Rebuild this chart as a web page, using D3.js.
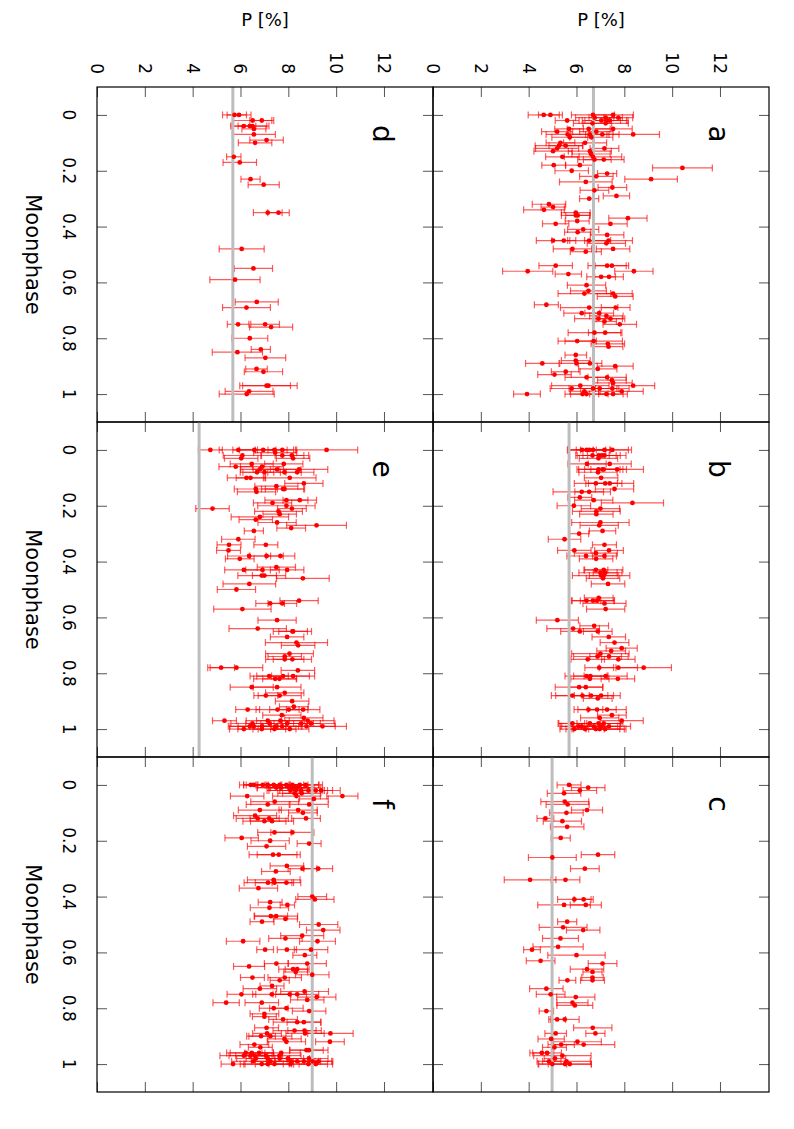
<!DOCTYPE html>
<html>
<head>
  <meta charset="utf-8">
  <title>Moonphase panels</title>
  <script src="https://cdn.jsdelivr.net/npm/d3@7"></script>
  <style>
    body { margin: 0; background: #fff; }
    text { font-family: "DejaVu Sans", sans-serif; }
  </style>
</head>
<body>
<script>
// each point: [moonphase, P (%), error (%)]
var panelA = [
  [0.00,4.63,0.65],[0.00,4.91,0.5],[0.00,6.69,0.9],[0.00,7.53,0.85],
  [0.01,6.76,0.8],[0.01,7.22,0.7],[0.01,7.75,0.6],
  [0.02,5.61,0.5],[0.02,7.04,0.8],[0.02,7.25,0.9],[0.02,7.39,0.7],
  [0.03,6.67,0.8],[0.03,7.22,0.95],
  [0.05,5.69,0.6],[0.05,6.51,0.9],[0.05,7.53,0.8],
  [0.06,5.19,0.65],[0.06,6.83,0.7],
  [0.07,5.63,0.9],[0.07,6.56,0.8],[0.07,7.08,0.7],[0.07,8.37,1.1],
  [0.08,5.72,0.75],[0.08,6.62,0.9],
  [0.10,6.36,0.9],[0.10,5.33,0.6],
  [0.11,5.27,1.0],[0.11,5.55,0.7],
  [0.12,5.19,0.9],[0.12,7.17,0.6],
  [0.13,5.02,0.8],[0.13,6.56,0.9],
  [0.14,6.61,0.8],
  [0.15,5.41,0.7],[0.15,6.69,1.2],
  [0.16,7.14,0.85],[0.16,6.75,0.7],
  [0.18,5.05,0.5],[0.18,6.14,0.6],
  [0.19,10.43,1.25],
  [0.20,5.80,0.7],
  [0.21,7.28,0.4],
  [0.22,6.83,0.7],
  [0.23,9.12,1.1],
  [0.24,6.39,1.1],
  [0.26,7.50,0.6],
  [0.27,6.75,0.6],
  [0.29,7.67,0.55],
  [0.30,6.53,0.4],
  [0.32,4.85,0.7],
  [0.33,5.02,0.5],
  [0.34,4.64,0.85],
  [0.35,5.97,0.6],
  [0.36,6.05,0.5],[0.36,5.97,0.6],
  [0.37,8.15,0.8],
  [0.38,6.03,0.5],
  [0.39,5.13,0.55],[0.39,7.42,0.7],
  [0.41,6.28,0.65],
  [0.42,6.05,0.55],
  [0.43,7.28,0.7],
  [0.45,5.02,0.7],[0.45,5.47,0.5],[0.45,6.53,0.9],[0.45,7.34,1.0],
  [0.46,7.25,0.8],
  [0.48,5.83,0.8],[0.48,7.53,0.7],
  [0.49,6.39,0.65],
  [0.54,5.13,0.7],[0.54,7.28,0.8],[0.54,7.48,0.7],
  [0.56,3.96,1.05],[0.56,8.40,0.8],
  [0.57,5.66,0.55],
  [0.58,7.03,0.6],[0.58,7.36,0.6],
  [0.61,6.42,0.8],
  [0.63,6.50,0.75],
  [0.64,6.33,1.1],[0.64,7.53,0.8],
  [0.65,7.62,0.75],
  [0.68,4.74,0.5],
  [0.69,6.53,1.2],[0.69,7.64,0.6],
  [0.71,6.22,0.75],[0.71,6.95,0.6],
  [0.72,7.25,0.7],
  [0.73,6.92,1.0],[0.73,7.42,0.6],
  [0.74,7.17,0.5],
  [0.75,7.81,0.7],
  [0.78,6.75,1.1],[0.78,7.20,0.7],
  [0.81,6.03,0.8],[0.81,6.72,1.2],
  [0.82,7.31,0.7],
  [0.83,7.34,0.6],
  [0.86,5.97,0.45],
  [0.88,5.97,0.6],
  [0.89,4.57,0.7],[0.89,6.56,0.5],[0.89,6.00,0.7],
  [0.90,7.62,0.75],
  [0.91,6.89,0.8],
  [0.92,5.55,0.6],
  [0.93,5.08,0.7],
  [0.94,6.42,0.9],[0.94,7.28,0.8],
  [0.95,7.48,0.6],
  [0.96,7.53,0.8],
  [0.97,6.16,1.2],[0.97,8.37,0.9],
  [0.98,5.80,0.9],[0.98,6.69,1.0],[0.98,6.97,0.8],[0.98,7.50,0.7],
  [0.99,6.33,0.6],[0.99,7.89,0.9],
  [1.00,3.93,0.56],[1.00,6.25,0.5],[1.00,6.42,0.9],[1.00,7.25,0.7],[1.00,7.53,0.6]
];

var panelB = [
  [0.00,6.23,0.6],[0.00,6.42,0.8],[0.00,6.53,0.9],[0.00,6.69,0.7],[0.00,7.17,1.0],[0.00,7.50,0.8],
  [0.02,6.67,0.7],[0.02,6.93,0.9],[0.02,7.06,0.6],[0.02,7.17,0.9],
  [0.03,6.92,0.8],
  [0.05,6.44,0.8],[0.05,7.39,0.9],
  [0.07,6.92,0.9],[0.07,7.09,1.0],[0.07,7.14,0.8],[0.07,7.70,1.1],
  [0.08,6.90,0.8],
  [0.10,7.03,0.7],
  [0.12,6.81,0.9],[0.12,7.20,0.7],[0.12,7.39,1.0],
  [0.14,7.59,0.8],
  [0.15,6.22,1.2],[0.15,6.53,0.6],
  [0.17,6.14,0.5],
  [0.18,6.72,0.8],
  [0.19,8.34,1.3],
  [0.20,5.89,0.7],
  [0.21,7.00,0.8],
  [0.22,6.83,1.0],
  [0.23,6.83,0.7],
  [0.26,7.00,1.2],
  [0.27,6.95,0.8],
  [0.29,7.09,0.55],
  [0.30,6.11,0.4],
  [0.32,5.50,0.68],
  [0.34,7.17,0.5],
  [0.36,5.91,0.7],[0.36,7.36,0.6],
  [0.37,6.81,0.9],
  [0.38,6.40,0.8],[0.38,7.17,0.5],
  [0.39,6.82,0.7],
  [0.43,6.81,0.5],[0.43,7.14,0.8],
  [0.44,7.00,0.9],[0.44,7.20,0.5],
  [0.45,7.03,1.2],[0.45,7.14,0.6],
  [0.46,7.11,0.7],
  [0.48,7.32,0.7],
  [0.53,6.93,0.6],
  [0.54,6.42,0.6],[0.54,6.69,0.9],[0.54,6.86,0.7],
  [0.55,7.17,0.9],
  [0.57,7.22,0.8],
  [0.61,5.20,0.88],
  [0.63,6.74,0.6],
  [0.64,5.86,1.1],
  [0.65,6.14,0.8],[0.65,6.89,0.6],
  [0.67,7.35,0.7],
  [0.69,7.59,0.6],
  [0.71,7.89,0.65],
  [0.72,7.45,0.6],
  [0.73,7.00,1.2],
  [0.74,6.88,1.0],[0.74,7.36,0.8],
  [0.75,6.47,0.7],[0.75,7.75,0.7],
  [0.78,6.95,0.6],[0.78,7.75,0.8],[0.78,8.81,1.16],
  [0.81,6.42,0.9],[0.81,6.58,0.7],[0.81,7.22,0.9],
  [0.82,6.56,0.8],[0.82,7.73,0.7],
  [0.85,6.11,1.0],[0.85,6.39,0.7],
  [0.88,5.83,0.7],[0.88,6.25,1.3],[0.88,6.61,0.7],[0.88,7.03,0.8],
  [0.89,6.89,0.6],
  [0.93,6.50,0.6],[0.93,6.86,0.8],[0.93,7.28,0.8],
  [0.95,7.48,0.6],
  [0.96,6.97,0.8],
  [0.97,7.89,0.9],
  [0.98,5.83,0.6],[0.98,6.56,1.3],[0.98,6.92,0.9],[0.98,7.14,0.8],
  [0.99,6.08,0.7],[0.99,6.22,0.9],[0.99,6.72,1.0],[0.99,7.03,0.8],[0.99,7.36,0.9],
  [1.00,5.91,0.6],[1.00,6.36,0.8],[1.00,6.81,1.0],[1.00,6.97,1.1],[1.00,7.20,0.8]
];

var panelC = [
  [0.00,5.69,0.5],[0.01,6.49,0.7],[0.02,6.14,0.7],[0.03,5.48,0.7],[0.06,5.51,1.0],
  [0.07,5.63,0.9],[0.09,6.44,0.65],[0.10,5.58,0.7],[0.12,4.70,0.35],[0.13,5.41,0.8],
  [0.15,5.61,0.7],[0.19,5.34,0.4],[0.25,6.90,0.7],[0.26,4.99,1.0],[0.30,6.35,0.6],
  [0.34,4.06,1.08],[0.34,5.54,0.6],[0.41,5.91,0.7],[0.41,6.30,0.4],[0.43,5.48,1.1],
  [0.43,6.39,0.65],[0.49,5.61,0.4],[0.51,5.44,1.0],[0.52,6.28,0.7],[0.55,5.33,0.75],
  [0.58,5.23,1.05],[0.59,4.14,0.35],[0.61,6.00,1.2],[0.63,4.50,0.6],[0.64,7.09,0.6],
  [0.66,6.44,0.7],[0.67,6.67,0.4],[0.69,6.67,0.45],[0.70,5.62,0.35],[0.70,6.67,0.5],
  [0.73,4.74,0.7],[0.75,4.92,0.6],[0.76,5.97,0.8],[0.78,5.83,0.65],[0.79,5.93,0.75],
  [0.81,4.74,0.3],[0.84,5.19,0.35],[0.84,5.51,0.6],[0.87,6.68,0.8],[0.89,5.13,0.45],
  [0.89,6.79,0.4],[0.91,4.94,0.55],[0.92,6.04,1.0],[0.93,5.36,0.55],[0.93,6.30,1.3],
  [0.94,5.08,0.5],[0.96,4.55,0.5],[0.96,4.77,0.6],[0.97,5.41,1.2],[0.98,5.10,0.45],
  [0.99,4.85,0.5],[0.99,5.58,1.0],[1.00,4.99,0.6],[1.00,5.52,1.1],[1.00,5.72,0.9]
];

var panelD = [
  [0.00,5.75,0.5],[0.00,5.94,0.5],[0.02,6.51,0.8],[0.02,6.89,0.5],[0.04,6.14,0.5],
  [0.04,6.39,0.8],[0.04,6.50,0.6],[0.05,6.56,0.5],[0.07,6.56,0.9],[0.09,7.09,0.7],
  [0.10,6.61,0.7],[0.15,5.72,0.3],[0.17,5.97,0.7],[0.23,6.42,0.4],[0.25,6.97,0.65],
  [0.35,7.14,0.6],[0.35,7.59,0.45],[0.48,6.05,0.94],[0.55,6.54,0.8],[0.59,5.77,1.05],
  [0.67,6.68,0.9],[0.69,6.25,1.0],[0.75,5.90,0.45],[0.75,7.03,0.6],[0.76,7.28,0.9],
  [0.80,6.39,0.75],[0.84,6.85,0.4],[0.85,5.87,1.05],[0.87,7.04,0.85],[0.91,6.67,0.45],
  [0.92,6.96,0.8],[0.97,7.09,1.0],[0.97,7.17,1.2],[0.99,6.36,1.0],[1.00,6.26,1.15]
];

var panelE = [
  [0.00,4.74,0.5],[0.00,5.91,0.8],[0.00,6.58,0.9],[0.00,6.95,1.0],[0.00,7.42,0.8],[0.00,7.75,0.6],[0.00,9.60,1.3],
  [0.01,7.45,0.9],
  [0.02,6.08,0.8],[0.02,7.75,0.9],[0.02,8.15,0.7],
  [0.03,6.03,0.7],[0.03,8.20,0.7],
  [0.05,6.47,0.9],[0.05,7.81,0.8],
  [0.06,5.80,0.7],[0.06,6.90,0.9],
  [0.07,6.81,0.8],[0.07,7.53,1.0],[0.07,8.45,1.2],
  [0.08,6.69,0.7],[0.08,7.00,0.9],[0.08,7.84,0.7],[0.08,8.37,0.7],
  [0.10,6.25,0.8],[0.10,6.42,0.6],[0.10,8.06,1.1],
  [0.12,8.65,0.8],
  [0.13,7.50,0.9],
  [0.14,6.64,0.9],[0.14,7.78,0.9],[0.14,7.84,0.8],
  [0.15,6.67,0.8],
  [0.18,7.92,0.9],[0.18,8.48,0.7],
  [0.19,7.34,0.8],
  [0.20,7.92,1.2],
  [0.21,4.83,0.7],[0.21,8.15,0.6],
  [0.22,7.59,1.0],
  [0.23,7.64,0.7],
  [0.24,6.81,1.2],
  [0.25,6.64,0.7],
  [0.26,7.53,0.8],
  [0.27,9.18,1.25],
  [0.28,8.12,0.6],
  [0.29,6.56,0.4],
  [0.32,5.91,0.7],
  [0.34,5.52,0.5],[0.34,7.06,0.5],
  [0.36,5.50,0.5],
  [0.38,6.36,0.9],[0.38,7.09,0.7],[0.38,7.67,0.6],
  [0.39,5.97,0.6],
  [0.42,7.50,0.8],
  [0.43,6.14,0.8],[0.43,6.92,0.7],[0.43,7.95,0.7],
  [0.45,6.89,1.0],[0.45,7.00,0.5],
  [0.46,8.61,1.1],
  [0.48,6.37,1.1],
  [0.50,5.83,0.8],
  [0.54,8.45,0.8],
  [0.55,7.24,0.6],[0.55,7.75,0.6],
  [0.57,6.08,1.2],
  [0.61,7.53,0.8],
  [0.64,6.72,1.2],
  [0.65,8.20,0.6],[0.65,8.17,0.8],
  [0.67,7.95,0.7],
  [0.69,8.34,1.3],
  [0.70,8.41,0.7],
  [0.73,8.05,1.0],
  [0.74,7.85,0.7],
  [0.75,7.85,0.8],[0.75,8.17,0.8],
  [0.78,5.19,0.56],[0.78,5.83,1.1],
  [0.79,8.40,0.7],
  [0.81,7.20,0.8],[0.81,7.78,1.1],[0.81,8.20,0.9],
  [0.82,7.45,0.9],[0.82,7.63,0.7],
  [0.85,6.47,0.9],[0.85,7.53,1.0],
  [0.87,7.85,0.8],
  [0.88,7.06,0.5],[0.88,7.64,0.9],
  [0.90,8.16,0.7],
  [0.92,8.23,0.6],
  [0.93,6.30,0.5],[0.93,7.55,0.9],[0.93,8.02,0.8],[0.93,8.62,0.7],
  [0.95,7.73,0.8],
  [0.96,8.65,0.8],
  [0.97,5.33,0.5],[0.97,7.14,0.9],[0.97,7.67,1.0],[0.97,8.81,1.1],
  [0.98,6.50,0.9],[0.98,7.22,1.0],[0.98,7.95,1.1],[0.98,8.54,0.8],[0.98,8.95,1.0],
  [0.99,6.39,0.9],[0.99,6.56,1.0],[0.99,6.90,1.0],[0.99,7.48,1.1],[0.99,7.74,0.8],[0.99,8.76,1.2],[0.99,9.43,1.0],
  [1.00,6.14,0.6],[1.00,6.89,1.0],[1.00,7.42,0.9],[1.00,8.06,0.8]
];

var panelF = [
  [0.00,6.43,0.3],[0.00,6.56,0.6],[0.00,6.93,0.8],[0.00,7.14,0.9],[0.00,7.39,0.7],[0.00,7.64,1.0],[0.00,7.92,0.9],[0.00,8.17,1.1],[0.00,8.48,0.8],[0.00,8.73,0.7],
  [0.01,7.50,0.8],[0.01,7.70,1.0],[0.01,8.02,0.8],[0.01,8.16,0.9],[0.01,8.26,1.1],[0.01,8.37,0.7],
  [0.02,8.09,0.9],[0.02,8.31,1.2],[0.02,8.54,0.9],[0.02,8.84,0.8],[0.02,9.15,0.7],[0.02,9.37,0.8],
  [0.03,8.26,0.7],[0.03,8.56,0.8],
  [0.04,6.28,0.7],[0.04,8.34,1.0],[0.04,10.26,0.65],
  [0.05,9.07,0.6],
  [0.06,7.43,1.0],
  [0.07,7.14,0.9],[0.07,8.87,0.8],
  [0.09,6.81,0.9],[0.09,8.41,0.8],
  [0.10,8.61,0.6],
  [0.11,6.61,0.9],
  [0.12,6.72,0.9],[0.12,7.20,0.8],[0.12,8.74,0.6],
  [0.13,7.00,0.9],[0.13,7.32,0.9],
  [0.17,7.42,0.7],[0.17,8.17,0.9],
  [0.19,6.05,0.7],
  [0.20,7.24,0.8],
  [0.21,8.87,0.5],
  [0.22,7.09,0.8],
  [0.25,7.36,1.0],[0.25,7.60,0.9],
  [0.29,7.94,0.7],
  [0.30,8.59,0.6],[0.30,9.25,0.6],
  [0.31,7.48,0.6],
  [0.34,7.39,1.1],
  [0.35,7.15,1.0],[0.35,7.42,0.8],[0.35,7.92,0.6],
  [0.37,6.75,0.8],
  [0.40,9.00,0.6],
  [0.41,9.11,0.8],
  [0.42,7.24,0.5],
  [0.43,7.96,0.3],
  [0.44,7.21,0.8],
  [0.47,7.27,0.7],[0.47,7.49,0.9],
  [0.48,7.88,0.5],
  [0.49,6.90,0.5],
  [0.50,9.27,0.8],
  [0.52,9.46,0.7],
  [0.54,8.58,0.9],
  [0.55,7.88,0.7],
  [0.56,6.11,0.7],[0.56,9.22,0.75],
  [0.59,7.03,0.35],[0.59,7.94,0.4],[0.59,8.95,0.7],
  [0.61,8.69,0.5],
  [0.64,7.50,0.5],[0.64,8.79,0.8],
  [0.65,6.36,0.65],
  [0.66,8.20,0.6],[0.66,8.37,0.5],
  [0.67,8.31,0.5],
  [0.68,9.00,0.7],
  [0.69,6.50,0.5],[0.69,7.85,0.7],
  [0.70,7.64,0.4],
  [0.72,7.32,0.5],
  [0.73,6.81,0.7],
  [0.74,8.68,1.0],
  [0.75,6.04,0.6],[0.75,7.31,0.8],[0.75,8.06,0.7],[0.75,8.37,0.9],
  [0.76,9.19,0.8],
  [0.77,8.79,0.7],
  [0.78,5.40,0.55],[0.78,6.89,0.7],
  [0.80,7.39,0.6],[0.80,7.92,0.7],
  [0.81,8.87,0.7],
  [0.82,7.00,0.6],
  [0.83,7.00,0.5],
  [0.84,7.78,0.6],
  [0.85,8.37,1.0],[0.85,8.65,0.7],
  [0.87,7.09,0.5],
  [0.88,8.26,0.9],[0.88,8.68,0.7],
  [0.89,7.11,0.6],[0.89,8.70,0.8],[0.89,9.76,0.95],
  [0.90,6.86,0.6],[0.90,7.25,0.9],
  [0.91,7.84,0.7],
  [0.92,7.92,0.8],[0.92,9.74,0.6],
  [0.93,6.58,0.6],
  [0.94,6.83,0.5],
  [0.95,8.76,0.7],[0.95,8.86,0.8],
  [0.96,6.22,0.8],[0.96,6.47,0.9],[0.96,6.78,0.6],[0.96,7.70,0.8],
  [0.97,6.14,1.0],[0.97,6.42,0.9],[0.97,6.60,0.8],[0.97,7.06,0.7],[0.97,7.63,0.9],
  [0.98,6.64,0.8],[0.98,7.14,0.9],[0.98,7.64,1.0],[0.98,7.98,0.9],[0.98,8.86,0.8],
  [0.99,6.53,0.9],[0.99,7.25,0.8],[0.99,8.12,1.0],[0.99,8.37,0.9],[0.99,8.65,0.7],[0.99,9.01,0.8],[0.99,9.26,0.6],
  [1.00,5.69,0.5],[1.00,6.89,0.9],[1.00,7.14,1.0],[1.00,7.42,0.8],[1.00,8.09,0.9],[1.00,8.84,0.8],[1.00,9.15,0.7]
];

var panelNames = ["a", "b", "c", "d", "e", "f"];
var panelData = [panelA, panelB, panelC, panelD, panelE, panelF];
var meanP = [6.71, 5.69, 4.98, 5.68, 4.27, 9.00];
var pTicks = [0, 2, 4, 6, 8, 10, 12];
var phaseTicks = [0, 0.2, 0.4, 0.6, 0.8, 1];
var phaseLabels = ["0", "0.2", "0.4", "0.6", "0.8", "1"];

// the whole figure is turned a quarter: P runs left->right, moonphase top->bottom
var width = 794, height = 1129;
var colX = [433, 97];          // a,b,c on the right; d,e,f on the left
var rowY = [87, 422, 757];
var panelW = 336, panelH = 335;

var svg = d3.select("body").append("svg")
  .attr("width", width).attr("height", height);
svg.append("rect").attr("width", width).attr("height", height).attr("fill", "#fff");

panelNames.forEach(function(name, i) {
  var col = Math.floor(i / 3), row = i % 3;
  var x0 = colX[col], y0 = rowY[row];
  var data = panelData[i];

  var x = d3.scaleLinear().domain([0, 14.05]).range([x0, x0 + panelW]);
  var y = d3.scaleLinear().domain([-0.1, 1.1]).range([y0, y0 + panelH]);

  var g = svg.append("g");

  // inward ticks on all four sides
  var axes = [
    [d3.axisBottom(x).tickValues(pTicks), "translate(0," + y0 + ")"],
    [d3.axisTop(x).tickValues(pTicks), "translate(0," + (y0 + panelH) + ")"],
    [d3.axisRight(y).tickValues(phaseTicks), "translate(" + x0 + ",0)"],
    [d3.axisLeft(y).tickValues(phaseTicks), "translate(" + (x0 + panelW) + ",0)"]
  ];
  axes.forEach(function(a) {
    var ax = g.append("g").attr("transform", a[1])
      .call(a[0].tickSize(10).tickFormat(""));
    ax.select(".domain").remove();
    ax.selectAll("line").attr("stroke", "#555").attr("stroke-width", 1);
  });

  // error bars
  var bars = g.append("g").attr("stroke", "red").attr("stroke-opacity", 0.65).attr("stroke-width", 1.2);
  bars.selectAll(".eb").data(data).enter().append("line")
    .attr("x1", function(d) { return x(d[1] - d[2]); })
    .attr("x2", function(d) { return x(d[1] + d[2]); })
    .attr("y1", function(d) { return y(d[0]); })
    .attr("y2", function(d) { return y(d[0]); });
  bars.selectAll(".cap1").data(data).enter().append("line")
    .attr("x1", function(d) { return x(d[1] - d[2]); })
    .attr("x2", function(d) { return x(d[1] - d[2]); })
    .attr("y1", function(d) { return y(d[0]) - 3.5; })
    .attr("y2", function(d) { return y(d[0]) + 3.5; });
  bars.selectAll(".cap2").data(data).enter().append("line")
    .attr("x1", function(d) { return x(d[1] + d[2]); })
    .attr("x2", function(d) { return x(d[1] + d[2]); })
    .attr("y1", function(d) { return y(d[0]) - 3.5; })
    .attr("y2", function(d) { return y(d[0]) + 3.5; });

  // mean line
  g.append("line")
    .attr("x1", x(meanP[i])).attr("x2", x(meanP[i]))
    .attr("y1", y0).attr("y2", y0 + panelH)
    .attr("stroke", "#bdbdbd").attr("stroke-width", 3);

  g.selectAll("circle").data(data).enter().append("circle")
    .attr("cx", function(d) { return x(d[1]); })
    .attr("cy", function(d) { return y(d[0]); })
    .attr("r", 2.4)
    .attr("fill", "red");

  g.append("rect")
    .attr("x", x0).attr("y", y0).attr("width", panelW).attr("height", panelH)
    .attr("fill", "none").attr("stroke", "#000").attr("stroke-width", 1.2);

  g.append("text")
    .attr("transform", "translate(" + (x0 + panelW - 60) + "," + (y0 + 47) + ") rotate(90)")
    .attr("text-anchor", "middle")
    .attr("font-size", "28px")
    .text(name);

  if (row === 0) {
    pTicks.forEach(function(t) {
      svg.append("text")
        .attr("transform", "translate(" + x(t) + ",74) rotate(90)")
        .attr("text-anchor", "end")
        .attr("dominant-baseline", "central")
        .attr("font-size", "17px")
        .text(t);
    });
    svg.append("text")
      .attr("x", x0 + panelW / 2).attr("y", 19)
      .attr("text-anchor", "middle")
      .attr("dominant-baseline", "central")
      .attr("font-size", "18px")
      .text("P [%]");
  }

  if (col === 1) {
    phaseTicks.forEach(function(t, k) {
      svg.append("text")
        .attr("transform", "translate(69," + y(t) + ") rotate(90)")
        .attr("text-anchor", "middle")
        .attr("dominant-baseline", "central")
        .attr("font-size", "17px")
        .text(phaseLabels[k]);
    });
    svg.append("text")
      .attr("transform", "translate(33," + (y0 + panelH / 2) + ") rotate(90)")
      .attr("text-anchor", "middle")
      .attr("dominant-baseline", "central")
      .attr("font-size", "21px")
      .text("Moonphase");
  }
});
</script>
</body>
</html>
